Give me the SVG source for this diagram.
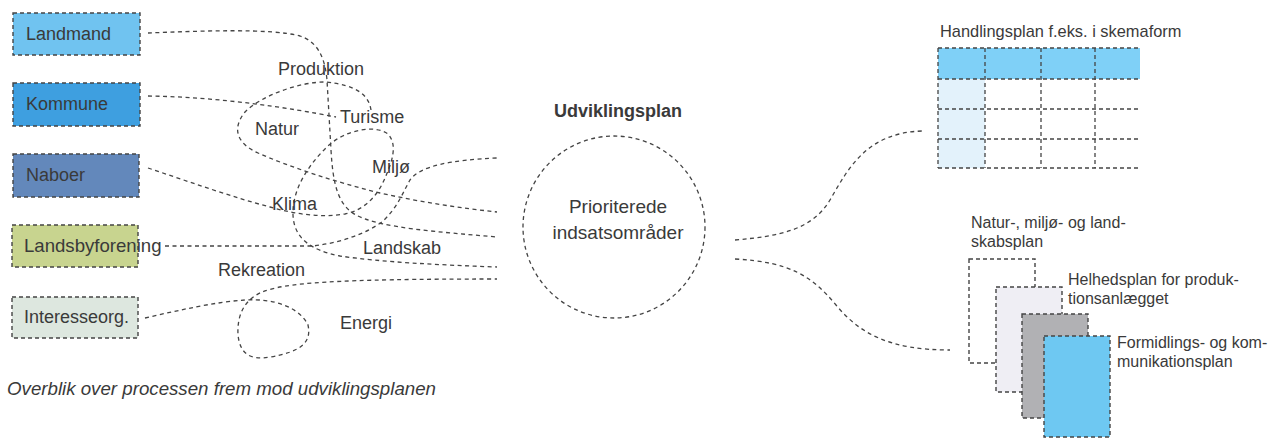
<svg xmlns="http://www.w3.org/2000/svg" width="1271" height="439" viewBox="0 0 1271 439">
<style>
  text { font-family: "Liberation Sans", Arial, sans-serif; fill: #3a3a3a; }
  .lbl { font-size: 18px; }
  .sm { font-size: 16px; }
  .box { stroke: #444; stroke-width: 1.4; stroke-dasharray: 4 3; }
  .dash { fill: none; stroke: #444; stroke-width: 1.3; stroke-dasharray: 4 3.5; }
  .grid { fill: none; stroke: #444; stroke-width: 1.3; stroke-dasharray: 4 3; }
</style>
<rect width="1271" height="439" fill="#ffffff"/>

<g id="connectors">
  <path class="dash" d="M148,33 C200,31 270,28 300,36 C318,42 325,58 327,80 L331,150 C333,185 338,205 356,215 C380,228 440,232 497,237"/>
  <path class="dash" d="M148,96 C220,97 290,108 336,117"/>
  <path class="dash" d="M371,110 C369,96 358,85 325,82 C300,82 262,95 245,112 C232,128 236,143 258,153 C290,167 335,182 380,193 C420,202 460,208 497,212"/>
  <path class="dash" d="M148,168 C190,182 235,198 270,207 C295,214 320,218 345,214 C365,210 378,195 385,178 C392,162 398,145 388,134 C375,124 345,130 328,146 C308,165 292,190 293,215 C294,238 310,250 340,256 C380,262 440,265 497,267"/>
  <path class="dash" d="M165,246 L313,246 C340,243 368,233 383,221 C398,207 403,192 410,180 C420,166 450,160 497,158"/>
  <path class="dash" d="M145,318 C180,310 215,302 245,300 C275,298 300,308 308,325 C312,343 300,352 270,357 C248,361 240,352 238,335 C237,315 244,300 262,292 C285,283 330,279 497,279"/>
  <path class="dash" d="M735,240 C780,236 812,230 830,200 C850,165 868,133 922,131"/>
  <path class="dash" d="M735,259 C790,262 812,276 836,305 C860,334 890,350 950,350"/>
</g>

<g id="node-landmand">
  <rect class="box" x="13" y="13" width="127" height="42" fill="#70c3f0"/>
  <text class="lbl" x="26" y="40">Landmand</text>
</g>
<g id="node-kommune">
  <rect class="box" x="13" y="83" width="127" height="43" fill="#3e9fe0"/>
  <text class="lbl" x="26" y="110">Kommune</text>
</g>
<g id="node-naboer">
  <rect class="box" x="13" y="154" width="126" height="43" fill="#6388bb"/>
  <text class="lbl" x="26" y="181">Naboer</text>
</g>
<g id="node-landsbyforening">
  <rect class="box" x="12" y="225" width="126" height="42" fill="#c8d48f"/>
  <text x="24" y="252" font-size="18.6">Landsbyforening</text>
</g>
<g id="node-interesseorg">
  <rect class="box" x="12" y="297" width="126" height="41" fill="#dde7df"/>
  <text class="lbl" x="24" y="323">Interesseorg.</text>
</g>

<g id="topics">
  <text class="lbl" x="278" y="75">Produktion</text>
  <text class="lbl" x="340" y="123">Turisme</text>
  <text class="lbl" x="255" y="135">Natur</text>
  <text class="lbl" x="372" y="173">Miljø</text>
  <text class="lbl" x="272" y="210">Klima</text>
  <text class="lbl" x="363" y="254">Landskab</text>
  <text class="lbl" x="218" y="276">Rekreation</text>
  <text class="lbl" x="340" y="329">Energi</text>
</g>

<g id="node-udviklingsplan">
  <text x="618" y="117" font-size="18" font-weight="bold" text-anchor="middle">Udviklingsplan</text>
  <circle class="dash" cx="614" cy="227" r="91"/>
  <text x="618" y="213" font-size="19" text-anchor="middle">Prioriterede</text>
  <text x="618" y="239" font-size="19" text-anchor="middle">indsatsområder</text>
</g>

<g id="node-handlingsplan">
  <text x="940" y="37" font-size="16.4">Handlingsplan f.eks. i skemaform</text>
  <rect x="938" y="48" width="202" height="31" fill="#7fd0f7"/>
  <rect x="938" y="79" width="47" height="89" fill="#e3f2fb"/>
  <path class="grid" d="M938,48 H1140 M938,79 H1140 M938,109 H1140 M938,139 H1140 M938,168 H1140 M938,48 V168 M985,48 V168 M1041,48 V168 M1095,48 V168"/>
</g>

<g id="node-plans">
  <rect class="box" x="969" y="259" width="66" height="104" fill="#ffffff"/>
  <rect class="box" x="996" y="287" width="66" height="105" fill="#efeef4"/>
  <rect class="box" x="1022" y="314" width="66" height="104" fill="#b1b1b4"/>
  <rect class="box" x="1044" y="336" width="66" height="101" fill="#6ec8f2"/>
  <text class="sm" x="971" y="228">Natur-, miljø- og land-</text>
  <text class="sm" x="971" y="247">skabsplan</text>
  <text class="sm" x="1068" y="285">Helhedsplan for produk-</text>
  <text class="sm" x="1068" y="304">tionsanlægget</text>
  <text class="sm" x="1117" y="348">Formidlings- og kom-</text>
  <text class="sm" x="1117" y="367">munikationsplan</text>
</g>

<text x="7" y="395" font-size="18.7" font-style="italic">Overblik over processen frem mod udviklingsplanen</text>
</svg>
